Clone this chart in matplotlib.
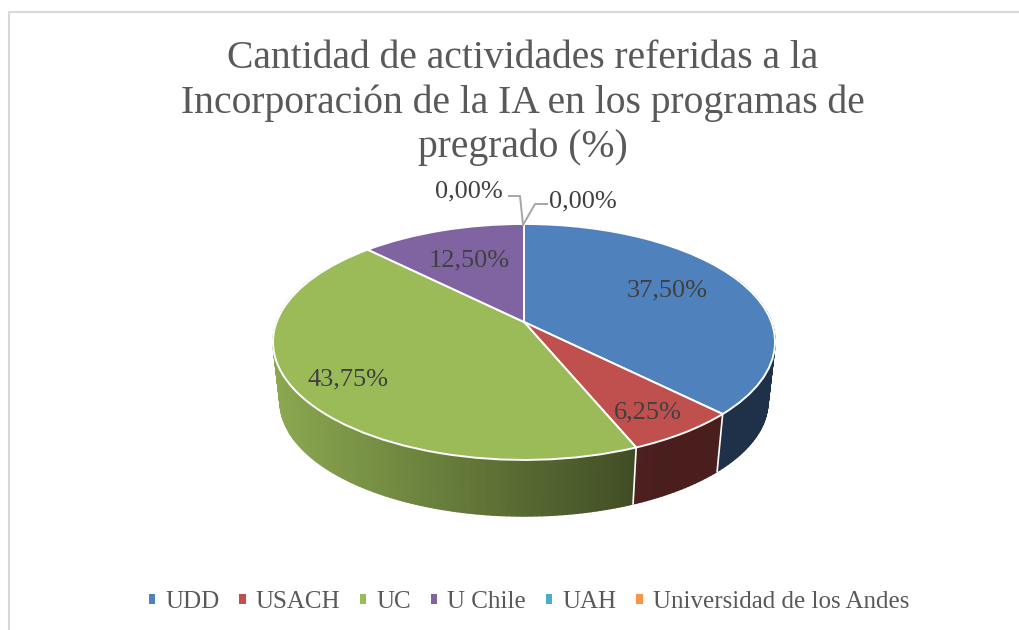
import numpy as np
from matplotlib import pyplot as plt
from matplotlib import transforms as mtransforms

plt.rcParams['font.family'] = ['Liberation Serif', 'DejaVu Serif']

universidades = ["UDD", "USACH", "UC", "U Chile", "UAH", "Universidad de los Andes"]
porcentajes = [37.50, 6.25, 43.75, 12.50, 0.00, 0.00]
colores = ["#4f81bd", "#c0504d", "#9bbb59", "#8064a2", "#4bacc6", "#f79646"]
titulo = "Cantidad de actividades referidas a la\nIncorporación de la IA en los programas de\npregrado (%)"

# perspectiva de la torta 3D, en pixeles
CX, CY = 524, 322
A, G, E = 114.6, 247.4, 0.169


def proyectar(x, y):
    den = 1 + E * y
    return CX + G * x / den, CY - A * y / den


class Perspectiva(mtransforms.Transform):
    input_dims = 2
    output_dims = 2

    def transform_non_affine(self, values):
        px, py = proyectar(values[:, 0], values[:, 1])
        return np.column_stack([px, py])


def borde_inferior(px, py):
    return CX + 0.972 * (px - CX), CY + 60 + 0.972 * (py - CY)


def sombra(px):
    return np.clip(0.9 - 0.48 * (px - 273) / (632 - 273), 0.38, 0.9)


def etiqueta(v):
    return f"{v:.2f}%".replace(".", ",")


fig = plt.figure(figsize=(10.2, 6.3), dpi=100)
ax = fig.add_axes([0, 0, 1, 1])
wedges, _ = ax.pie(porcentajes, colors=colores, startangle=90, counterclock=False,
                   wedgeprops={"edgecolor": "white", "linewidth": 1.4, "zorder": 5})
ax.set_aspect("auto")
ax.set_xlim(0, 1020)
ax.set_ylim(630, 0)
for w in wedges:
    w.set_transform(Perspectiva() + ax.transData)

# pared lateral
fin = 90.0
for v, color in zip(porcentajes, colores):
    ini = fin - v * 3.6
    t1, t2 = max(ini, -205), min(fin, 25)
    fin = ini
    if t1 >= t2:
        continue
    base = np.array(plt.matplotlib.colors.to_rgb(color))
    angs = np.radians(np.linspace(t1, t2, int(t2 - t1) + 2))
    px, py = proyectar(np.cos(angs), np.sin(angs))
    qx, qy = borde_inferior(px, py)
    for i in range(len(angs) - 1):
        c = base * sombra((px[i] + px[i + 1]) / 2)
        ax.fill([px[i], px[i + 1], qx[i + 1], qx[i]], [py[i], py[i + 1], qy[i + 1], qy[i]],
                facecolor=c, edgecolor=c, lw=1.0, zorder=2)
    # separacion entre porciones
    if ini >= -205:
        ax.plot([px[0], qx[0]], [py[0], qy[0]], color="white", lw=1.2, zorder=3)

ax.set_xlim(0, 1020)
ax.set_ylim(630, 0)

# marco del grafico
ax.plot([9, 9, 1020], [630, 12, 12], color="#d9d9d9", lw=1.5, zorder=1)

ax.text(523, 103, titulo, ha="center", va="center", fontsize=28.5, color="#595959",
        linespacing=1.24)

color_texto = "#404040"
pos_etiquetas = [(667, 290), (648, 412), (348, 379), (469, 260), (469, 191), (583, 201)]
for v, (x, y) in zip(porcentajes, pos_etiquetas):
    ax.text(x, y, etiqueta(v), ha="center", va="center", fontsize=19, color=color_texto, zorder=6)

# lineas guia de las etiquetas en cero
ax.plot([523, 520, 509], [225, 196, 196], color="#a6a6a6", lw=1.4, zorder=6)
ax.plot([523, 535, 547], [225, 204, 204], color="#a6a6a6", lw=1.4, zorder=6)

leg = ax.legend(wedges, universidades, ncols=6, loc="center", frameon=False,
                bbox_to_anchor=(529, 602), bbox_transform=ax.transData, fontsize=18,
                handlelength=0.25, handleheight=0.25, handletextpad=0.4, columnspacing=0.8,
                labelcolor="#595959")
for h in leg.get_patches():
    h.set_edgecolor("none")

fig.savefig("out.png", dpi=100, facecolor="white")
